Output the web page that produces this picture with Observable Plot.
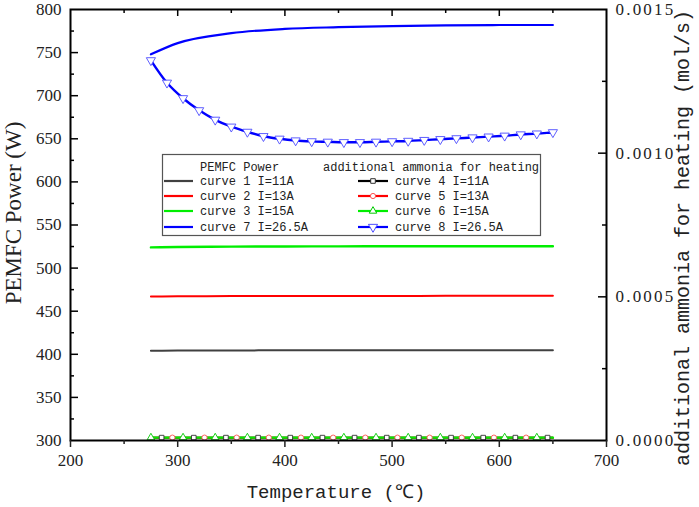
<!DOCTYPE html>
<html><head><meta charset="utf-8">
<script src="https://cdn.jsdelivr.net/npm/d3@7"></script>
<script src="https://cdn.jsdelivr.net/npm/@observablehq/plot@0.6"></script>
<style>
body{margin:0;background:#fff;}
#chart{width:699px;height:507px;}
</style></head><body><div id="chart"></div>
<script>
// ---------- data ----------
const xTicks = [200, 300, 400, 500, 600, 700];
const xMinor = [250, 350, 450, 550, 650];
const yTicks = [300, 350, 400, 450, 500, 550, 600, 650, 700, 750, 800];
const yMinor = [325, 375, 425, 475, 525, 575, 625, 675, 725, 775];
const y2Ticks = [0, 0.0005, 0.0010, 0.0015];
const y2TickLabels = ["0.0000", "0.0005", "0.0010", "0.0015"];
const y2Minor = [0.00025, 0.00075, 0.00125];

// PEMFC power (W)
const powerT = [275, 300, 350, 400, 450, 500, 550, 600, 650];
const curve1 = [404.0, 404.3, 404.5, 404.6, 404.7, 404.7, 404.8, 404.8, 404.8];
const curve2 = [467.0, 467.3, 467.5, 467.6, 467.7, 467.7, 467.8, 467.8, 467.8];
const curve3 = [524.0, 524.5, 524.9, 525.1, 525.2, 525.3, 525.3, 525.4, 525.4];
const curve7 = [748, 761, 772.5, 777.5, 779.5, 780.8, 781.5, 782, 782];

// additional ammonia for heating (mol/s)
const ammT8 = [275, 290, 305, 320, 335, 350, 365, 380, 395, 410, 425, 440, 455, 470, 485, 500, 515, 530, 545, 560, 575, 590, 605, 620, 635, 650];
const curve8 = [0.001323, 0.001245, 0.001191, 0.001149, 0.001116, 0.001092, 0.001074, 0.001059, 0.00105, 0.001044, 0.001041, 0.0010395, 0.001038, 0.001038, 0.0010395, 0.001041, 0.0010425, 0.0010455, 0.0010485, 0.0010515, 0.0010545, 0.0010575, 0.0010605, 0.001065, 0.001068, 0.0010725];
const ammT4 = [275, 285, 315, 345, 375, 405, 435, 465, 495, 525, 555, 585, 615, 645, 650];
const curve4 = [0.00001, 0.00001, 0.00001, 0.00001, 0.00001, 0.00001, 0.00001, 0.00001, 0.00001, 0.00001, 0.00001, 0.00001, 0.00001, 0.00001, 0.00001];
const ammT5 = [275, 295, 325, 355, 385, 415, 445, 475, 505, 535, 565, 595, 625, 650];
const curve5 = [0.00001, 0.00001, 0.00001, 0.00001, 0.00001, 0.00001, 0.00001, 0.00001, 0.00001, 0.00001, 0.00001, 0.00001, 0.00001, 0.00001];
const ammT6 = [275, 305, 335, 365, 395, 425, 455, 485, 515, 545, 575, 605, 635, 650];
const curve6 = [0.00001, 0.00001, 0.00001, 0.00001, 0.00001, 0.00001, 0.00001, 0.00001, 0.00001, 0.00001, 0.00001, 0.00001, 0.00001, 0.00001];

const legendPower = ["curve 1 I=11A", "curve 2 I=13A", "curve 3 I=15A", "curve 7 I=26.5A"];
const legendAmm = ["curve 4 I=11A", "curve 5 I=13A", "curve 6 I=15A", "curve 8 I=26.5A"];

// ---------- styles ----------
const C = {k: "#404040", r: "#ff0000", g: "#00ee00", b: "#0000ff"};
const serif = "'Liberation Serif', 'Times New Roman', serif";
const mono = "'Liberation Mono', 'DejaVu Sans Mono', monospace";
const W = 699, H = 507, mL = 70, mR = 93, mT = 9, mB = 67;
const innerW = W - mL - mR, innerH = H - mT - mB;

// right axis maps ammonia 0..0.0015 onto power 300..800
const yMin = 300, yMax = 800, aMax = 0.0015;
const toY = a => yMin + a * (yMax - yMin) / aMax;

const rows = (T, V) => T.map((t, i) => ({t, v: V[i]}));
const p1 = rows(powerT, curve1), p2 = rows(powerT, curve2), p3 = rows(powerT, curve3), p7 = rows(powerT, curve7);
const a4 = rows(ammT4, curve4), a5 = rows(ammT5, curve5), a6 = rows(ammT6, curve6), a8 = rows(ammT8, curve8);
const inner = arr => arr.slice(1, -1);

const triangleDown = {
  draw(ctx, size) {
    const y = -Math.sqrt(size / (Math.sqrt(3) * 3));
    ctx.moveTo(0, -y * 2);
    ctx.lineTo(-Math.sqrt(3) * y, y);
    ctx.lineTo(Math.sqrt(3) * y, y);
    ctx.closePath();
  }
};

const plot = Plot.plot({
  width: W, height: H,
  marginLeft: mL, marginRight: mR, marginTop: mT, marginBottom: mB,
  x: {domain: [200, 700]},
  y: {domain: [yMin, yMax]},
  style: {background: "white", fontFamily: serif, fontSize: "17px", color: "#222"},
  marks: [
    // power curves
    Plot.line(p1, {x: "t", y: "v", stroke: C.k, strokeWidth: 2, curve: "monotone-x"}),
    Plot.line(p2, {x: "t", y: "v", stroke: C.r, strokeWidth: 2, curve: "monotone-x"}),
    Plot.line(p3, {x: "t", y: "v", stroke: C.g, strokeWidth: 2.4, curve: "monotone-x"}),
    Plot.line(p7, {x: "t", y: "v", stroke: C.b, strokeWidth: 2.2, curve: "monotone-x"}),
    // ammonia curves (right axis)
    Plot.line(a4, {x: "t", y: d => toY(d.v), stroke: "black", strokeWidth: 2}),
    Plot.line(a5, {x: "t", y: d => toY(d.v), stroke: C.r, strokeWidth: 2}),
    Plot.line(a6, {x: "t", y: d => toY(d.v), stroke: C.g, strokeWidth: 2.4}),
    Plot.dot(inner(a4), {x: "t", y: d => toY(d.v), symbol: "square", r: 2.6, stroke: "#333", strokeWidth: 0.9, fill: "white"}),
    Plot.dot(inner(a5), {x: "t", y: d => toY(d.v), symbol: "circle", r: 2.6, stroke: "#ff5050", strokeWidth: 0.9, fill: "white"}),
    Plot.dot(a6.slice(0, -1), {x: "t", y: d => toY(d.v), symbol: "triangle", r: 2.8, stroke: "#00cc00", strokeWidth: 0.9, fill: "white"}),
    Plot.line(a8, {x: "t", y: d => toY(d.v), stroke: C.b, strokeWidth: 2.4, curve: "catmull-rom"}),
    Plot.dot(a8, {x: "t", y: d => toY(d.v), symbol: triangleDown, r: 3.4, stroke: "#4d4dff", strokeWidth: 0.9, fill: "white"}),
    // frame
    Plot.frame({stroke: "black", strokeWidth: 2}),
    // bottom axis (ticks outward)
    Plot.axisX({ticks: xTicks, tickSize: 7, tickPadding: 6, strokeWidth: 1.5, fontSize: 17, fontFamily: serif, label: null}),
    Plot.axisX({ticks: xMinor, tickSize: 4, tickFormat: () => "", strokeWidth: 1.5, label: null}),
    // top axis ticks (inward)
    Plot.tickX(xTicks.slice(1, -1), {x: d => d, insetBottom: innerH - 7, stroke: "black", strokeWidth: 1.5}),
    Plot.tickX(xMinor, {x: d => d, insetBottom: innerH - 4, stroke: "black", strokeWidth: 1.5}),
    // left axis (labels + inward ticks)
    Plot.axisY({ticks: yTicks, tickSize: 0, tickPadding: 9, fontSize: 17, fontFamily: serif, label: null}),
    Plot.tickY(yTicks.slice(1, -1), {y: d => d, insetRight: innerW - 8, stroke: "black", strokeWidth: 1.5}),
    Plot.tickY(yMinor, {y: d => d, insetRight: innerW - 4, stroke: "black", strokeWidth: 1.5}),
    // right axis (labels + inward ticks)
    Plot.axisY({anchor: "right", ticks: y2Ticks.map(toY), tickSize: 0, tickPadding: 9,
      tickFormat: (d, i) => y2TickLabels[i], fontSize: 17, fontFamily: serif, label: null}),
    Plot.tickY(y2Ticks.slice(1, -1).map(toY), {y: d => d, insetLeft: innerW - 8, stroke: "black", strokeWidth: 1.5}),
    Plot.tickY(y2Minor.map(toY), {y: d => d, insetLeft: innerW - 4, stroke: "black", strokeWidth: 1.5})
  ]
});

document.getElementById("chart").appendChild(plot);
const svg = d3.select("#chart svg");
// spaced right-axis labels
svg.selectAll("text").each(function() {
  if (this.textContent.startsWith("0.")) this.setAttribute("letter-spacing", "2.2");
});

// axis titles
const titles = svg.append("g").attr("text-anchor", "middle").attr("fill", "#222");
titles.append("text").attr("transform", "translate(16,213) rotate(-90)")
  .attr("dominant-baseline", "middle")
  .attr("font-family", serif).attr("font-size", 23)
  .text("PEMFC Power (W)");
titles.append("text").attr("transform", "translate(684,238) rotate(-90)")
  .attr("dominant-baseline", "middle")
  .attr("font-family", mono).attr("font-size", 20)
  .text("additional ammonia for heating (mol/s)");
titles.append("text").attr("x", 336).attr("y", 493)
  .attr("dominant-baseline", "middle")
  .attr("font-family", mono).attr("font-size", 19)
  .text("Temperature (℃)");

// legend
const lg = svg.append("g").attr("font-family", mono).attr("font-size", 12).attr("fill", "#222").attr("text-anchor", "start");
lg.append("rect").attr("x", 162.5).attr("y", 154.5).attr("width", 378).attr("height", 81)
  .attr("fill", "white").attr("stroke", "#555").attr("stroke-width", 1.2);
lg.append("text").attr("x", 200).attr("y", 167).attr("dy", "0.35em").text("PEMFC Power");
lg.append("text").attr("x", 323).attr("y", 167).attr("dy", "0.35em").text("additional ammonia for heating");
const rowY = [181, 196, 211, 227];
const pCols = [C.k, C.r, C.g, C.b];
const aCols = ["black", C.r, C.g, C.b];
const aMarkStroke = ["#333", "#ff5050", "#00cc00", "#4d4dff"];
const aSyms = [d3.symbolSquare, d3.symbolCircle, d3.symbolTriangle, triangleDown];
const aSize = [2.6, 2.6, 2.8, 3.4];
legendPower.forEach((lab, i) => {
  lg.append("line").attr("x1", 164).attr("x2", 193).attr("y1", rowY[i]).attr("y2", rowY[i])
    .attr("stroke", pCols[i]).attr("stroke-width", 2.2);
  lg.append("text").attr("x", 200).attr("y", rowY[i]).attr("dy", "0.35em").text(lab);
});
legendAmm.forEach((lab, i) => {
  lg.append("line").attr("x1", 358).attr("x2", 388).attr("y1", rowY[i]).attr("y2", rowY[i])
    .attr("stroke", aCols[i]).attr("stroke-width", 2.2);
  lg.append("path").attr("transform", `translate(373,${rowY[i]})`)
    .attr("d", d3.symbol(aSyms[i], Math.PI * aSize[i] * aSize[i])())
    .attr("fill", "white").attr("stroke", aMarkStroke[i]).attr("stroke-width", 1);
  lg.append("text").attr("x", 395).attr("y", rowY[i]).attr("dy", "0.35em").text(lab);
});
</script>
</body></html>
